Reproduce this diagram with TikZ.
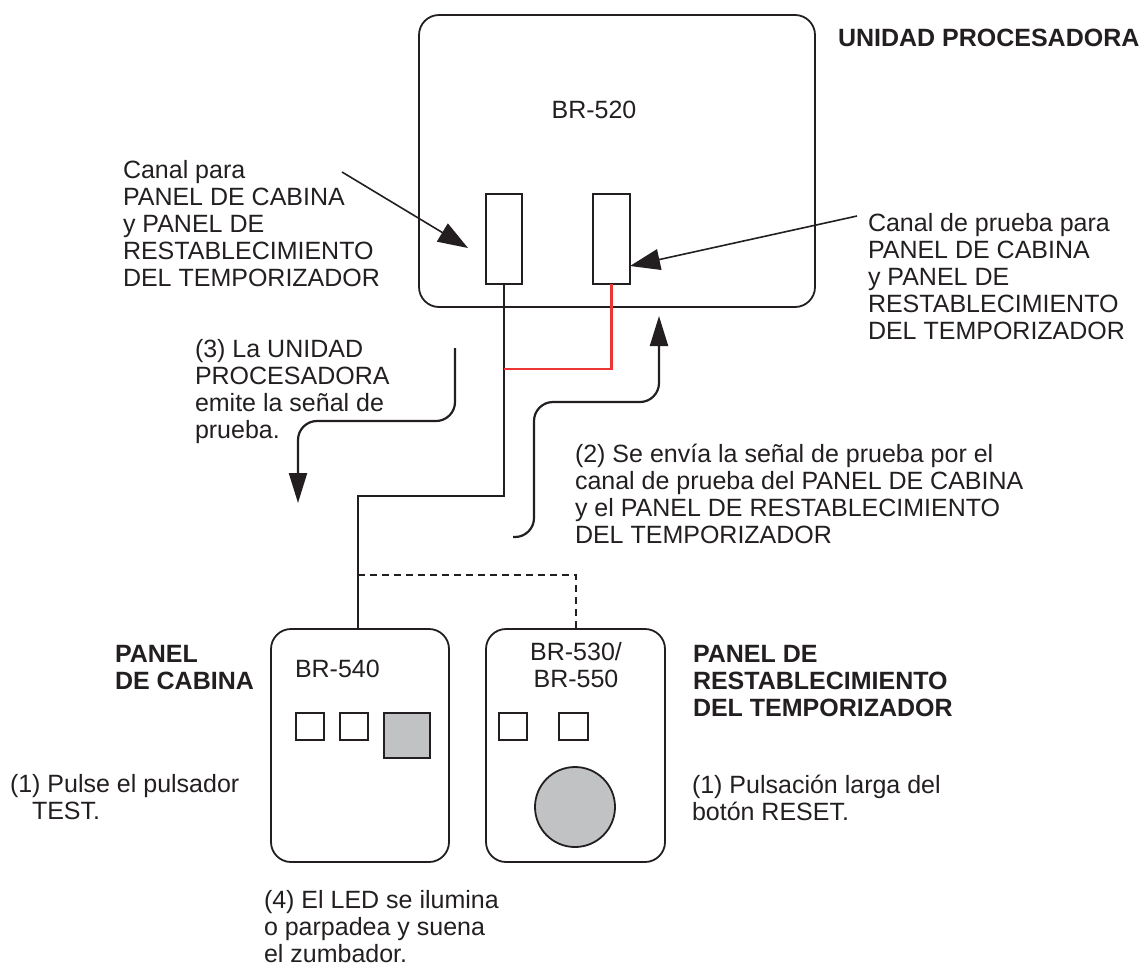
\documentclass[tikz,border=0pt]{standalone}
\usepackage{fontspec}
\setmainfont{Liberation Sans}
\usetikzlibrary{arrows.meta}
\definecolor{ink}{HTML}{231F20}
\definecolor{btn}{HTML}{C1C2C4}
\definecolor{wirered}{HTML}{EE3535}
\begin{document}
\begin{tikzpicture}[x=1pt,y=-1pt,
  txt/.style={font=\fontsize{25}{27}\selectfont, text=ink, inner sep=0pt, outer sep=0pt, align=left, anchor=north west},
  btxt/.style={txt, font=\fontsize{25}{27}\selectfont\bfseries},
  box/.style={draw=ink, line width=1.8pt, rounded corners=20pt, inner sep=0pt, outer sep=0pt},
  slot/.style={draw=ink, line width=1.8pt, inner sep=0pt, outer sep=0pt},
  led/.style={draw=ink, line width=1.8pt, inner sep=0pt, outer sep=0pt, minimum width=28pt, minimum height=27pt},
  wire/.style={draw=ink, line width=2.5pt},
  redwire/.style={draw=wirered, line width=2.4pt},
  dwire/.style={draw=ink, line width=2.2pt, dash pattern=on 7pt off 5pt},
  ptr/.style={draw=ink, line width=1.6pt, -{Triangle[length=30pt,width=21pt]}},
  flow/.style={draw=ink, line width=2.2pt, rounded corners=19pt, -{Triangle[length=30pt,width=18pt]}}
]
\useasboundingbox (0,0) rectangle (1142,967);

% processor unit
\node[box, minimum width=396pt, minimum height=292pt] (main) at (617,161) {};
\node[slot, minimum width=36pt, minimum height=90pt] (slotL) at (504,239) {};
\node[slot, minimum width=37pt, minimum height=90pt] (slotR) at (611.5,239) {};
\node[txt, anchor=base] (br520) at (594,118) {BR-520};
\node[btxt] (unidad) at (838,29) {UNIDAD PROCESADORA};

% panels
\node[box, minimum width=178pt, minimum height=233pt] (lp) at (360,745.5) {};
\node[box, minimum width=179pt, minimum height=233pt] (rp) at (575.5,745.5) {};
\node[led] (sq1) at (310,726.5) {};
\node[led] (sq2) at (354,726.5) {};
\node[led, fill=btn, minimum width=46pt, minimum height=45pt] (sqg) at (407,735.5) {};
\node[led] (rsq1) at (513,726.5) {};
\node[led, minimum width=29pt] (rsq2) at (573.5,726.5) {};
\node[draw=ink, line width=1.8pt, fill=btn, circle, minimum size=80pt, inner sep=0pt] (reset) at (575,807) {};
\node[txt, anchor=base west] (br540) at (295,677) {BR-540};
\node[txt, anchor=north, align=center] (br530) at (576,642) {BR-530/\\BR-550};

% wiring
\coordinate (wj) at (358,496);
\coordinate (rj) at (504,369);
\coordinate (dj) at (358,575);
\coordinate (dk) at (576,575);
\draw[wire] (slotL.south) |- (wj) -- (lp.north -| wj);
\draw[redwire] (slotR.south) |- (rj);
\draw[dwire] (dj) -- (dk) -- (rp.north -| dk);

% pointer arrows
\coordinate (plS) at (342,172);
\coordinate (plT) at (468,248);
\coordinate (prS) at (857,216);
\coordinate (prT) at (630,266);
\draw[ptr] (plS) -- (plT);
\draw[ptr] (prS) -- (prT);

% flow arrows
\coordinate (a3s) at (455,348);
\coordinate (a3m) at (298,421);
\coordinate (a3e) at (298,503);
\draw[flow] (a3s) |- (a3m) -- (a3e);
\coordinate (a2s) at (513,537);
\coordinate (a2m) at (534,402);
\coordinate (a2e) at (659,316);
\draw[flow] (a2s) -| (a2m) -| (a2e);

% texts
\node[txt] (canalL) at (123,160) {Canal para\\PANEL DE CABINA\\y PANEL DE\\RESTABLECIMIENTO\\DEL TEMPORIZADOR};
\node[txt] (canalR) at (868,213) {Canal de prueba para\\PANEL DE CABINA\\y PANEL DE\\RESTABLECIMIENTO\\DEL TEMPORIZADOR};
\node[txt] (t3) at (195,339) {(3) La UNIDAD\\PROCESADORA\\emite la señal de\\prueba.};
\node[txt] (t2) at (575,444) {(2) Se envía la señal de prueba por el\\canal de prueba del PANEL DE CABINA\\y el PANEL DE RESTABLECIMIENTO\\DEL TEMPORIZADOR};
\node[btxt] (pcab) at (115,645) {PANEL\\DE CABINA};
\node[btxt] (prest) at (693,645) {PANEL DE\\RESTABLECIMIENTO\\DEL TEMPORIZADOR};
\node[txt] (t1L) at (10,774) {(1) Pulse el pulsador\\\hspace*{22pt}TEST.};
\node[txt] (t1R) at (692,775) {(1) Pulsación larga del\\botón RESET.};
\node[txt] (t4) at (264,890) {(4) El LED se ilumina\\o parpadea y suena\\el zumbador.};
\end{tikzpicture}
\end{document}
